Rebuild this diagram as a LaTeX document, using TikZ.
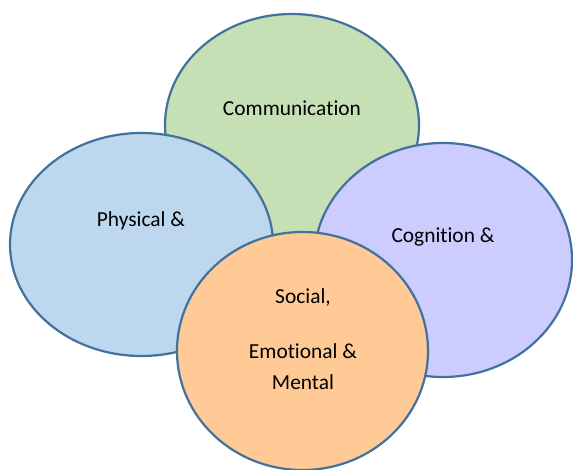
\documentclass[tikz,border=0pt]{standalone}
\usepackage{fontspec}
\setmainfont{Carlito}[Ligatures={NoCommon,NoRare,NoContextual}]
\definecolor{edge}{HTML}{41719C}
\definecolor{gfill}{HTML}{C5E0B4}
\definecolor{bfill}{HTML}{BDD7EE}
\definecolor{pfill}{HTML}{CCCCFF}
\definecolor{ofill}{HTML}{FFCA96}
\tikzset{
  blob/.style={draw=edge, line width=2.2pt},
  lbl/.style={font=\fontsize{21.4}{26}\selectfont, text=black, align=center, inner sep=0pt},
}
\begin{document}
\begin{tikzpicture}[x=1pt,y=-1pt]
\useasboundingbox (0,0) rectangle (573,470);
\filldraw[blob, fill=gfill] (292,125) ellipse [x radius=127, y radius=111];
\filldraw[blob, fill=bfill] (141.5,244.5) ellipse [x radius=131.5, y radius=111.5];
\filldraw[blob, fill=pfill] (443,260) ellipse [x radius=129, y radius=117];
\filldraw[blob, fill=ofill] (302.5,351) ellipse [x radius=125.5, y radius=119];
\node[lbl] (comm) at (292,108) {Communica\kern0pt tion};
\node[lbl] (phys) at (141,221) {Physical \&};
\node[lbl] (cog) at (443,237) {Cogni\kern0pt tion \&};
\node[lbl] (soc1) at (303,297) {Social,};
\node[lbl] (soc2) at (303,351) {Emo\kern0pt tional \&};
\node[lbl] (soc3) at (303,382) {Mental};
\end{tikzpicture}
\end{document}
